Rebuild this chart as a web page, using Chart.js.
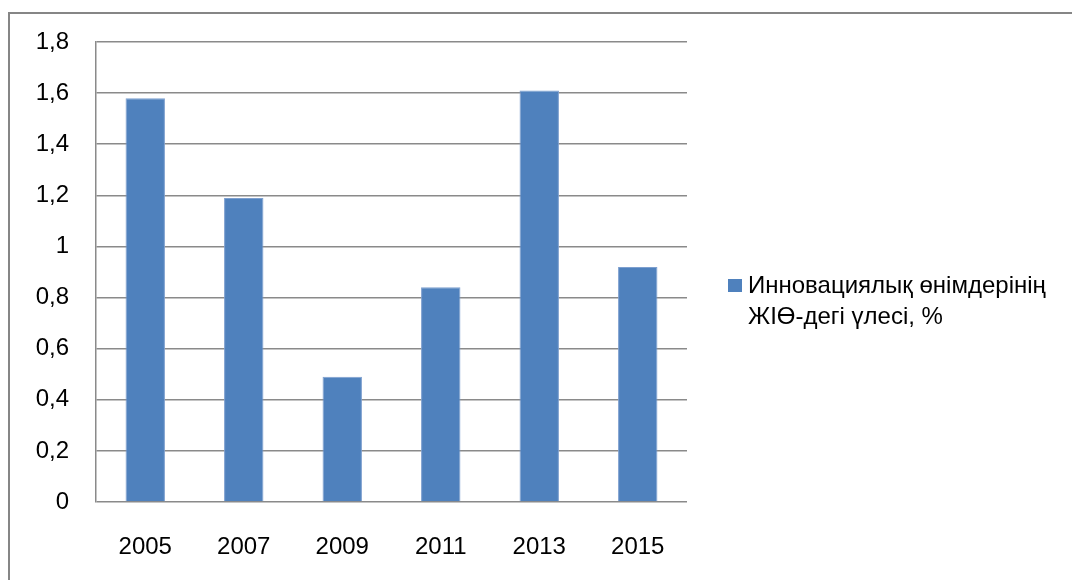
<!DOCTYPE html>
<html>
<head>
<meta charset="utf-8">
<script src="https://cdn.jsdelivr.net/npm/chart.js@4.4.1/dist/chart.umd.min.js"></script>
<style>
  html, body { margin: 0; padding: 0; background: #fff; overflow: hidden; }
  #wrap { position: relative; width: 1072px; height: 580px; overflow: hidden; background: #fff; }
  #frame { position: absolute; left: 8px; top: 12px; width: 1200px; height: 700px; border: 2px solid #868686; box-sizing: border-box; }
  #c { position: absolute; left: 0; top: 0; }
</style>
</head>
<body>
<div id="wrap">
  <div id="frame"></div>
  <canvas id="c" width="1072" height="580"></canvas>
</div>
<script>
const categories = ['2005', '2007', '2009', '2011', '2013', '2015'];
const values = [1.58, 1.19, 0.49, 0.84, 1.61, 0.92];
const legendLines = ['Инновациялық өнімдерінің', 'ЖІӨ-дегі үлесі, %'];
const yMin = 0, yMax = 1.8, yStep = 0.2;

const FONT = '"Liberation Sans", Arial, sans-serif';
const BAR = '#4F81BD';
const GRID = '#8a8a8a';

const legendPlugin = {
  id: 'sideLegend',
  afterDraw(chart) {
    const ctx = chart.ctx;
    const ds = chart.data.datasets[0];
    const x0 = chart.chartArea.right + 41;
    const y0 = 279;
    ctx.save();
    ctx.fillStyle = ds.backgroundColor;
    ctx.fillRect(x0, y0, 14, 13);
    ctx.fillStyle = '#000';
    ctx.font = '24px ' + FONT;
    ctx.textBaseline = 'alphabetic';
    ctx.textAlign = 'left';
    legendLines.forEach((t, i) => ctx.fillText(t, x0 + 20, y0 + 14 + i * 31));
    ctx.restore();
  }
};

new Chart(document.getElementById('c'), {
  type: 'bar',
  data: {
    labels: categories,
    datasets: [{
      label: legendLines.join(' '),
      data: values,
      backgroundColor: BAR,
      borderColor: '#7d9fcf',
      borderWidth: 1,
      barPercentage: 0.4,
      categoryPercentage: 1.0
    }]
  },
  options: {
    responsive: false,
    animation: false,
    devicePixelRatio: 1,
    layout: { padding: { left: 0, right: 1072 - 687, top: 42, bottom: 0 } },
    plugins: { legend: { display: false }, tooltip: { enabled: false } },
    scales: {
      x: {
        grid: { display: false, drawTicks: false },
        border: { display: false },
        ticks: { color: '#000', font: { family: FONT, size: 24 }, padding: 31, maxRotation: 0 },
        afterFit(s) { s.height = 78; }
      },
      y: {
        min: yMin, max: yMax,
        grid: { color: GRID, lineWidth: 1.5, drawTicks: false },
        border: { display: true, color: GRID, width: 1.5 },
        ticks: {
          stepSize: yStep, color: '#000', padding: 27,
          font: { family: FONT, size: 24 },
          callback: v => String(Math.round(v * 10) / 10).replace('.', ',')
        },
        afterFit(s) { s.width = 96; }
      }
    }
  },
  plugins: [legendPlugin]
});
</script>
</body>
</html>
